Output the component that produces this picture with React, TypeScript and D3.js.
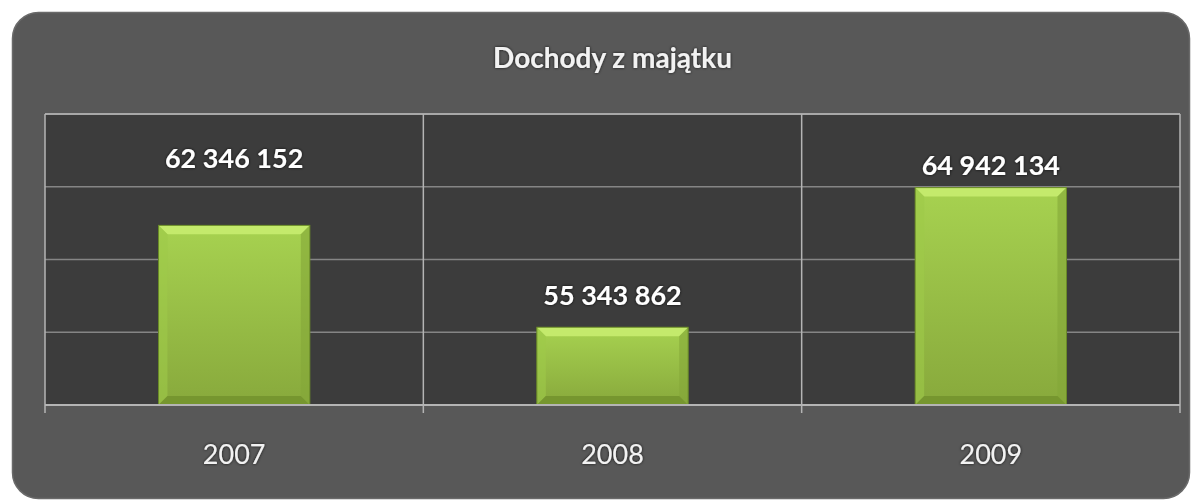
import React, { useEffect, useRef } from 'react';
import * as d3 from 'd3';

const title = 'Dochody z majątku';
const years = ['2007', '2008', '2009'];
const income = [62346152, 55343862, 64942134];
const yTicks = [50000000, 55000000, 60000000, 65000000, 70000000];
// how far above the bar top each value label sits (px), as placed in the original
const labelLift = [67, 32, 22];

const App = () => {
  const svgRef = useRef<SVGSVGElement>(null);

  useEffect(() => {
    const width = 1200;
    const height = 500;
    const margin = { top: 114, right: 20, bottom: 95, left: 45 };
    const innerWidth = width - margin.left - margin.right;
    const innerHeight = height - margin.top - margin.bottom;

    const svg = d3.select(svgRef.current);
    svg.selectAll('*').remove();
    svg.attr('width', width).attr('height', height);

    const defs = svg.append('defs');
    const barGrad = defs.append('linearGradient')
      .attr('id', 'barGrad').attr('x1', 0).attr('y1', 0).attr('x2', 0).attr('y2', 1);
    barGrad.append('stop').attr('offset', '0%').attr('stop-color', '#a7d250');
    barGrad.append('stop').attr('offset', '100%').attr('stop-color', '#88a93c');

    const glow = defs.append('filter').attr('id', 'glow')
      .attr('x', '-10%').attr('y', '-30%').attr('width', '120%').attr('height', '160%');
    glow.append('feDropShadow')
      .attr('dx', 0).attr('dy', 0).attr('stdDeviation', 1.5)
      .attr('flood-color', '#000').attr('flood-opacity', 0.8);

    // outer panel
    svg.append('rect')
      .attr('x', 12.5).attr('y', 12.5)
      .attr('width', 1177).attr('height', 486)
      .attr('rx', 26)
      .attr('fill', '#585858')
      .attr('stroke', '#6a6a6a')
      .attr('stroke-width', 1.5);

    svg.append('text')
      .attr('x', margin.left + innerWidth / 2)
      .attr('y', 58)
      .attr('dy', '0.35em')
      .attr('text-anchor', 'middle')
      .attr('fill', '#f2f2f2')
      .attr('font-family', 'Lato, sans-serif')
      .attr('font-weight', 'bold')
      .attr('font-size', '28px')
      .attr('filter', 'url(#glow)')
      .text(title);

    const g = svg.append('g')
      .attr('transform', `translate(${margin.left},${margin.top})`);

    const x = d3.scaleBand().domain(years).range([0, innerWidth]).paddingInner(0).paddingOuter(0);
    const y = d3.scaleLinear().domain([50000000, 70000000]).range([innerHeight, 0]);

    g.append('rect')
      .attr('width', innerWidth).attr('height', innerHeight)
      .attr('fill', '#3c3c3c');

    // horizontal grid
    g.selectAll('.hgrid')
      .data(yTicks.slice(1, -1))
      .enter()
      .append('line')
      .attr('x1', 0).attr('x2', innerWidth)
      .attr('y1', d => y(d)).attr('y2', d => y(d))
      .attr('stroke', '#858585')
      .attr('stroke-width', 1.5);

    // top border
    g.append('line')
      .attr('x1', 0).attr('x2', innerWidth)
      .attr('y1', y(yTicks[yTicks.length - 1])).attr('y2', y(yTicks[yTicks.length - 1]))
      .attr('stroke', '#a8a8a8').attr('stroke-width', 2);

    // vertical separators + ticks below axis
    const bounds = [0, ...years.map(d => (x(d) as number) + x.bandwidth())];
    g.selectAll('.vgrid')
      .data(bounds)
      .enter()
      .append('line')
      .attr('x1', d => d).attr('x2', d => d)
      .attr('y1', 0).attr('y2', innerHeight + 8)
      .attr('stroke', '#b4b4b4')
      .attr('stroke-width', 1.5);

    // bars
    const barW = x.bandwidth() * 0.4;
    const bev = 9;
    const bars = g.selectAll('.bar')
      .data(years)
      .enter()
      .append('g')
      .attr('class', 'bar')
      .attr('transform', (d, i) => `translate(${(x(d) as number) + (x.bandwidth() - barW) / 2},${y(income[i])})`);

    bars.append('rect')
      .attr('width', barW)
      .attr('height', (d, i) => innerHeight - y(income[i]))
      .attr('fill', 'url(#barGrad)');

    // bevel faces
    bars.append('polygon')
      .attr('points', `0,0 ${barW},0 ${barW - bev},${bev} ${bev},${bev}`)
      .attr('fill', '#c4ea6c');
    bars.append('polygon')
      .attr('points', (d, i) => {
        const h = innerHeight - y(income[i]);
        return `0,0 ${bev},${bev} ${bev},${h - bev} 0,${h}`;
      })
      .attr('fill', '#9fca4a')
      .attr('opacity', 0.6);
    bars.append('polygon')
      .attr('points', (d, i) => {
        const h = innerHeight - y(income[i]);
        return `${barW},0 ${barW - bev},${bev} ${barW - bev},${h - bev} ${barW},${h}`;
      })
      .attr('fill', '#84a638')
      .attr('opacity', 0.6);
    bars.append('polygon')
      .attr('points', (d, i) => {
        const h = innerHeight - y(income[i]);
        return `0,${h} ${bev},${h - bev} ${barW - bev},${h - bev} ${barW},${h}`;
      })
      .attr('fill', '#76962f');
    bars.append('rect')
      .attr('width', barW)
      .attr('height', (d, i) => innerHeight - y(income[i]))
      .attr('fill', 'none')
      .attr('stroke', '#6a8a28')
      .attr('stroke-width', 1);

    // bottom axis line
    g.append('line')
      .attr('x1', 0).attr('x2', innerWidth)
      .attr('y1', innerHeight).attr('y2', innerHeight)
      .attr('stroke', '#b4b4b4').attr('stroke-width', 2);

    // value labels
    const fmt = (v: number) => d3.format(',')(v).replace(/,/g, ' ');
    g.selectAll('.val')
      .data(years)
      .enter()
      .append('text')
      .attr('x', d => (x(d) as number) + x.bandwidth() / 2)
      .attr('y', (d, i) => y(income[i]) - labelLift[i])
      .attr('dy', '0.35em')
      .attr('text-anchor', 'middle')
      .attr('fill', '#ffffff')
      .attr('font-family', 'Lato, sans-serif')
      .attr('font-weight', 'bold')
      .attr('font-size', '27px')
      .attr('filter', 'url(#glow)')
      .text((d, i) => fmt(income[i]));

    // category labels
    g.selectAll('.cat')
      .data(years)
      .enter()
      .append('text')
      .attr('x', d => (x(d) as number) + x.bandwidth() / 2)
      .attr('y', innerHeight + 50)
      .attr('dy', '0.35em')
      .attr('text-anchor', 'middle')
      .attr('fill', '#f2f2f2')
      .attr('font-family', 'Lato, sans-serif')
      .attr('font-size', '27px')
      .attr('filter', 'url(#glow)')
      .text(d => d);
  }, []);

  return (
    <svg ref={svgRef} style={{ position: 'absolute', left: 0, top: 0, display: 'block' }}></svg>
  );
};

export default App;
